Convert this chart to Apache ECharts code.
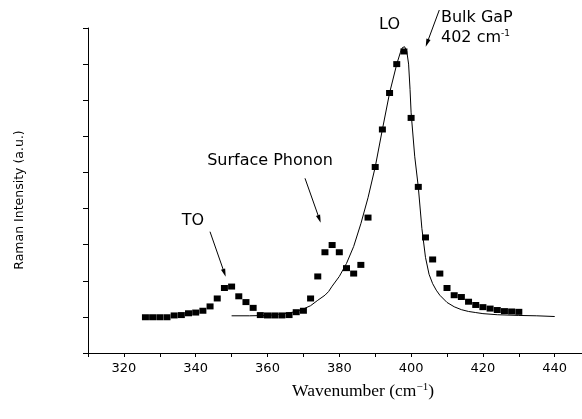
<!DOCTYPE html>
<html><head><meta charset="utf-8">
<script src="https://cdn.jsdelivr.net/npm/echarts@6.0.0/dist/echarts.min.js"></script>
<style>html,body{margin:0;padding:0;background:#fff}#c{width:582px;height:419px}</style>
</head><body><div id="c"></div>
<script>
// measured points (squares)
const wavenumbers = [326,328,330,332,334,336,338,340,342,344,346,348,350,352,354,356,358,360,362,364,366,368,370,372,374,376,378,380,382,384,386,388,390,392,394,396,398,400,402,404,406,408,410,412,414,416,418,420,422,424,426,428,430];
const intensity   = [-1,-1,-1,-1,4,5,10,12,17,29,51,80,84,57,41,25,5,4,4,4,5,13,17,51,112,179,199,179,135,120,144,275,415,519,620,700,735,551,360,220,159,120,80,60,55,42,33,27,23,19,16,15,14];
// fitted curve
const fitX = [350,355,360,363,366,368,370,372,374,376,377,378,380,382,384,386,388,390,392,394,396,397,397.6,398.2,398.8,399.3,399.7,400,401,402,403,404,405,406,407,408,410,412,414,416,418,420,424,430,435,440];
const fitY = [3,3,4,7,11,15,22,31,46,60,70,85,112,148,195,258,330,415,519,620,700,732,746,748,735,700,630,565,445,360,245,165,118,92,74,60,40,28,20,15,12,9,6,4,3,1];
const xTickLabels = [320,340,360,380,400,420,440];

const chart = echarts.init(document.getElementById('c'), null, {renderer:'canvas'});
const black = '#000';
const sans = 'DejaVu Sans';

function arrow(x1,y1,x2,y2){
  const dx=x2-x1, dy=y2-y1, L=Math.hypot(dx,dy), ux=dx/L, uy=dy/L, nx=-uy, ny=ux;
  const hl=8, hw=2.2;
  return [
    {type:'line', shape:{x1:x1,y1:y1,x2:x2-ux*4,y2:y2-uy*4}, style:{stroke:black,lineWidth:1}},
    {type:'polygon', shape:{points:[[x2,y2],[x2-ux*hl+nx*hw,y2-uy*hl+ny*hw],[x2-ux*hl-nx*hw,y2-uy*hl-ny*hw]]}, style:{fill:black}}
  ];
}
function txt(text,x,y,size,extra){
  return {type:'text', style:Object.assign({text:text,x:x,y:y,fill:black,font:size+'px "'+sans+'"',
    textAlign:'center',align:'center',textVerticalAlign:'middle',verticalAlign:'middle'},extra||{})};
}

const graphics = [].concat(
  [txt('LO',389.5,25,16)],
  [txt('Bulk GaP',441,17.5,16,{textAlign:'left',align:'left'})],
  [{type:'text', style:{text:'{a|402 cm}{s|-1}', x:441, y:38, fill:black, textAlign:'left',align:'left',textVerticalAlign:'middle',verticalAlign:'middle',
     rich:{a:{fontFamily:sans,fontSize:16,fill:black,lineHeight:18}, s:{fontFamily:sans,fontSize:9,fill:black,verticalAlign:'top',lineHeight:10}}}}],
  arrow(439.3,10,425.7,46.7),
  [txt('TO',193,221,16)],
  arrow(210,231.7,225.7,276.7),
  [txt('Surface Phonon',270,161,16)],
  arrow(305,178.3,320.7,222.7),
  [{type:'text', rotation:Math.PI/2, x:19.5, y:200, style:{text:'Raman Intensity (a.u.)', x:0,y:0, fill:black, font:'12.5px "'+sans+'"',
     textAlign:'center',align:'center',textVerticalAlign:'middle',verticalAlign:'middle'}}],
  [{type:'text', style:{text:'{a|Wavenumber (cm}{s|−1}{a|)}', x:363, y:391, fill:black, textAlign:'center',align:'center',textVerticalAlign:'middle',verticalAlign:'middle',
     rich:{a:{fontFamily:'Liberation Serif',fontSize:17.5,fill:black,lineHeight:19}, s:{fontFamily:'Liberation Serif',fontSize:11,fill:black,verticalAlign:'top',lineHeight:12}}}}]
);

chart.setOption({
  animation:false,
  backgroundColor:'#fff',
  grid:{left:88,right:0,top:28,bottom:66,containLabel:false,outerBoundsMode:'none'},
  xAxis:{type:'value',min:310,max:447.6,interval:10,
    axisLine:{onZero:false,lineStyle:{color:black,width:1}},
    axisTick:{length:4,lineStyle:{color:black,width:1}},
    axisLabel:{color:black,fontFamily:sans,fontSize:13,margin:9,showMaxLabel:false,
      formatter:function(v){const r=Math.round(v);return (Math.abs(v-r)<1e-6 && xTickLabels.indexOf(r)>=0)?String(r):'';}},
    splitLine:{show:false}},
  yAxis:{type:'value',min:-100,max:800,interval:100,
    axisLine:{show:true,onZero:false,lineStyle:{color:black,width:1}},
    axisTick:{show:true,length:5,lineStyle:{color:black,width:1}},
    axisLabel:{show:false},
    splitLine:{show:false}},
  series:[
    {type:'line',name:'fit',data:fitX.map((x,i)=>[x,fitY[i]]),showSymbol:false,symbol:'none',
      lineStyle:{color:black,width:1},z:2},
    {type:'scatter',name:'data',data:wavenumbers.map((x,i)=>[x,intensity[i]]),symbol:'rect',symbolSize:[7,6],
      itemStyle:{color:black,opacity:1},z:3}
  ],
  graphic:graphics
});
</script>
</body></html>
